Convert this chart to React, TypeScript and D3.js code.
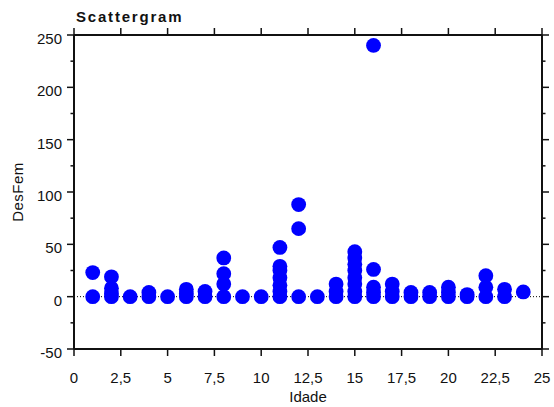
import React from "react";
import * as d3 from "d3";

const ages: number[] = [
  1, 1,
  2, 2, 2, 2,
  3,
  4, 4,
  5,
  6, 6, 6,
  7, 7,
  8, 8, 8, 8,
  9,
  10,
  11, 11, 11, 11, 11, 11, 11,
  12, 12, 12,
  13,
  14, 14, 14,
  15, 15, 15, 15, 15, 15, 15, 15,
  16, 16, 16, 16, 16,
  17, 17, 17,
  18, 18,
  19, 19,
  20, 20, 20,
  21, 21,
  22, 22, 22,
  23, 23,
  24,
];
const desFem: number[] = [
  0, 23,
  0, 3, 8, 19,
  0,
  0, 4,
  0,
  0, 3, 7,
  0, 5,
  0, 12, 22, 37,
  0,
  0,
  0, 5, 11, 18, 25, 29, 47,
  0, 65, 88,
  0,
  0, 5, 12,
  0, 5, 12, 18, 25, 31, 37, 43,
  0, 4, 9, 26, 240,
  0, 5, 12,
  0, 4,
  0, 4,
  0, 4, 9,
  0, 2,
  0, 9, 20,
  0, 7,
  4.5,
];
const xTicks: number[] = [0, 2.5, 5, 7.5, 10, 12.5, 15, 17.5, 20, 22.5, 25];
const yMajorTicks: number[] = [-50, 0, 50, 100, 150, 200, 250];
const yMinorTicks: number[] = [-25, 25, 75, 125, 175, 225];

const W = 554;
const H = 407;
const L = 74;
const R = 542;
const T = 35;
const B = 349;

export default function App() {
  const x = d3.scaleLinear().domain([0, 25]).range([L, R]);
  const y = d3.scaleLinear().domain([-50, 250]).range([B, T]);
  const fmt = (v: number) => String(v).replace(".", ",");
  const font = "Arial, 'Liberation Sans', sans-serif";
  return (
    <svg
      width={W}
      height={H}
      style={{ position: "absolute", left: 0, top: 0, background: "#fff" }}
      fontFamily={font}
    >
      <rect x={0} y={0} width={W} height={H} fill="#fff" />
      <text x={76} y={21.5} fontSize={15} fontWeight="bold" letterSpacing={1.8} fill="#111">
        Scattergram
      </text>
      {/* zero dotted line */}
      <line
        x1={L}
        x2={R}
        y1={y(0)}
        y2={y(0)}
        stroke="#000"
        strokeWidth={1}
        strokeDasharray="1 2"
      />
      {/* points */}
      {ages.map((a, i) => (
        <circle key={i} cx={x(a)} cy={y(desFem[i])} r={7.4} fill="#0000ff" />
      ))}
      {/* frame */}
      <g stroke="#111" fill="none">
        <line x1={L} x2={L} y1={T} y2={B} strokeWidth={2} />
        <line x1={R} x2={R} y1={T} y2={B} strokeWidth={2} />
        <line x1={L} x2={R} y1={T} y2={T} strokeWidth={2} />
        <line x1={L} x2={R} y1={B} y2={B} strokeWidth={2} />
        {xTicks.map((t) => (
          <g key={"xt" + t}>
            <line x1={x(t)} x2={x(t)} y1={B} y2={B + 7} strokeWidth={1.5} />
            <line x1={x(t)} x2={x(t)} y1={T} y2={T - 7} strokeWidth={1.5} />
          </g>
        ))}
        {yMajorTicks.map((t) => (
          <g key={"ym" + t}>
            <line x1={L} x2={L - 7} y1={y(t)} y2={y(t)} strokeWidth={1.5} />
            <line x1={R} x2={R + 7} y1={y(t)} y2={y(t)} strokeWidth={1.5} />
          </g>
        ))}
        {yMinorTicks.map((t) => (
          <g key={"yn" + t}>
            <line x1={L} x2={L - 3.5} y1={y(t)} y2={y(t)} strokeWidth={1.5} />
            <line x1={R} x2={R + 3.5} y1={y(t)} y2={y(t)} strokeWidth={1.5} />
          </g>
        ))}
      </g>
      {/* tick labels */}
      <g fontSize={15} fill="#111">
        {yMajorTicks.map((t) => (
          <text key={"yl" + t} x={L - 12} y={y(t) + 9} textAnchor="end">
            {fmt(t)}
          </text>
        ))}
        {xTicks.map((t) => (
          <text key={"xl" + t} x={x(t)} y={383} textAnchor="middle">
            {fmt(t)}
          </text>
        ))}
      </g>
      <text x={(L + R) / 2} y={402} fontSize={15} textAnchor="middle" fill="#111">
        Idade
      </text>
      <text
        transform={`translate(23, ${(T + B) / 2}) rotate(-90)`}
        fontSize={15}
        textAnchor="middle"
        letterSpacing={0.5}
        fill="#111"
      >
        DesFem
      </text>
    </svg>
  );
}
